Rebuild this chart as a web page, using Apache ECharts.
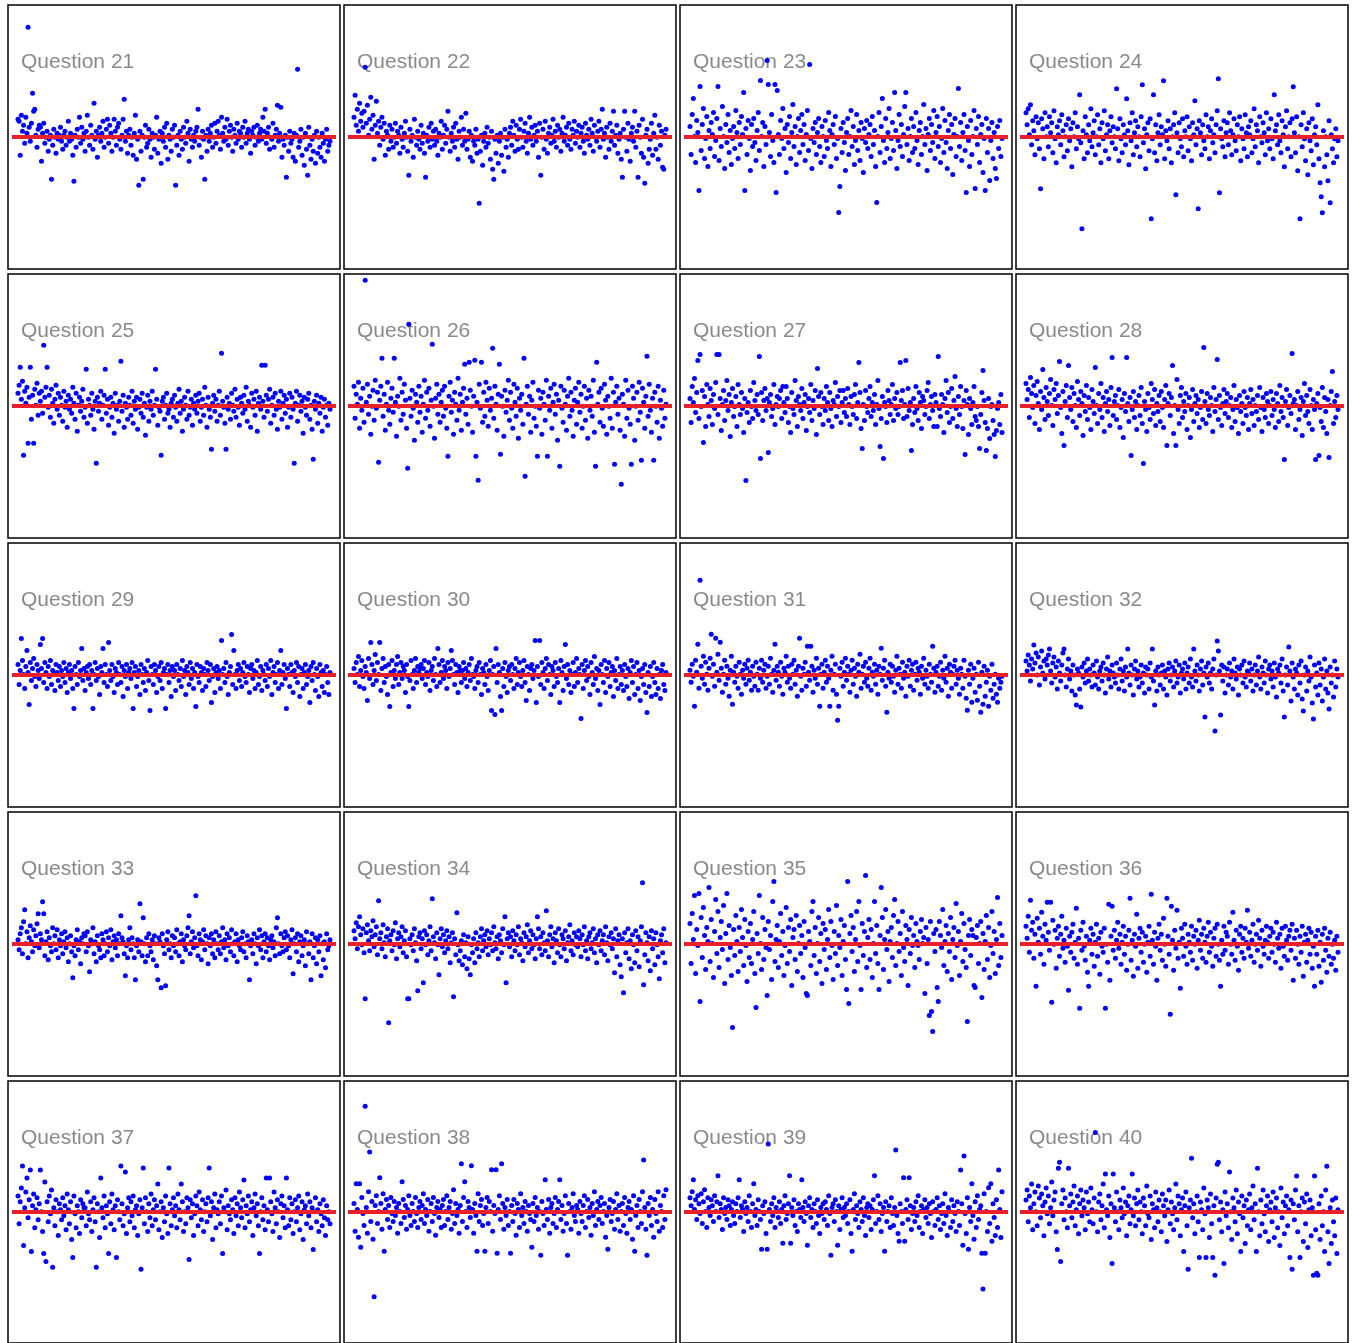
<!DOCTYPE html>
<html>
<head>
<meta charset="utf-8">
<title>Questions 21 - 40</title>
<script src="https://cdn.jsdelivr.net/npm/echarts@6/dist/echarts.min.js"></script>
<style>
  html, body { margin: 0; padding: 0; background: #fff; }
  #chart { width: 1356px; height: 1343px; }
</style>
</head>
<body>
<div id="chart"></div>
<script>
// one value per respondent, for each question
const q21 = [10,9,-8,12,4,7,-2,11,3,56,6,-1,8,23,14,15,2,-4,5,7,
  6,-11,3,8,-2,1,4,-6,0,2,-20,-3,5,1,-7,3,0,2,6,-1,
  -5,2,4,-3,1,9,-1,3,0,-8,-21,2,-4,5,1,11,-2,6,0,3,
  -6,4,12,1,-3,7,2,-5,18,0,4,-9,2,6,-1,3,9,-4,1,5,
  10,-2,7,3,-6,1,10,4,-3,6,8,0,-5,2,10,20,-1,4,-7,2,
  5,-3,1,-8,3,12,-10,0,-23,4,-6,2,-20,1,7,-4,-2,5,0,-9,
  3,1,-5,2,11,-7,0,4,-12,3,-1,6,-4,8,-10,2,0,-6,5,1,
  7,-23,-3,2,-8,4,0,-5,6,1,-2,9,3,-11,5,0,-4,2,-1,4,
  6,15,-3,1,-9,4,0,-20,2,-6,5,-1,3,7,-4,1,8,-2,4,9,
  2,-5,11,3,-1,6,0,10,-3,4,7,1,-6,5,2,-2,8,0,4,3,
  -4,6,1,9,-2,3,5,0,-7,4,2,6,-3,1,7,-1,3,5,0,11,
  4,15,-2,3,6,-5,1,0,8,-4,2,5,17,-1,3,16,-9,0,-3,2,
  -19,1,-6,4,-2,0,-9,3,-11,2,35,-4,-1,5,-8,1,-13,3,-5,-18,
  6,-3,-10,0,-6,2,-12,4,-7,1,-4,-9,3,-2,-11,0,5,-6,-3,-1];
const q22 = [12,23,8,16,5,19,10,14,7,15,37,9,18,3,11,22,6,13,-9,8,
  20,4,10,-2,7,12,1,9,-7,5,3,-4,8,0,6,-3,2,9,-1,5,
  3,-6,7,1,-3,4,10,2,-5,-17,6,0,3,-8,11,2,-2,5,1,-4,
  8,-1,4,-6,-18,3,0,7,-3,9,1,5,-2,6,0,-7,4,2,10,-4,
  3,8,-1,6,15,2,-5,4,0,7,-3,9,1,-9,5,2,12,-2,6,0,
  14,-4,1,5,-8,3,-10,0,-2,6,-6,1,-31,-5,3,-12,0,4,-3,7,
  -1,2,-9,5,-14,-19,1,-6,3,-11,0,4,-7,2,-15,6,-3,1,-8,4,
  7,-2,10,3,-5,8,1,-4,6,11,2,-3,5,9,0,-6,4,12,1,7,
  -2,3,8,0,5,-8,9,-17,2,6,-4,10,1,-6,4,7,-1,3,11,0,
  5,-3,8,2,6,-5,4,12,0,3,7,-2,9,1,-4,6,3,10,-1,5,
  2,8,-3,4,7,0,-6,9,3,1,6,-2,11,4,-5,8,2,0,5,10,
  -3,6,16,1,4,-8,7,2,-4,9,0,5,15,-2,3,8,-6,1,4,-9,
  -18,6,15,2,-5,9,1,-10,4,7,0,15,-3,5,-18,8,2,-6,11,-8,
  -21,3,6,-11,-4,1,9,-7,4,13,-4,2,-9,8,-2,5,-13,-14,3,6];
const q23 = [8,-6,14,22,3,-10,11,5,-24,28,-4,9,17,-8,2,13,-12,6,-3,10,
  4,15,-7,1,12,28,-9,7,-2,18,3,-13,9,0,14,-5,6,-11,2,8,
  -3,16,5,-8,10,-1,13,4,25,-24,7,-6,11,2,-14,9,-2,12,0,-9,
  6,15,-4,31,3,10,-12,8,-1,41,29,5,-7,14,1,-10,29,-25,26,4,
  -6,11,2,17,-3,7,-15,9,0,13,-8,5,19,-2,8,-11,3,12,-5,6,
  14,-1,9,-9,4,16,-4,39,2,-13,7,0,10,-6,5,12,-2,-10,8,3,
  -7,11,1,-3,15,6,-12,4,9,-1,13,-8,2,-35,-22,7,-5,10,0,-14,
  5,12,-6,3,16,-2,8,-11,1,14,-4,6,-9,10,2,-15,7,0,11,-3,
  4,9,-7,13,-1,6,-12,-30,3,15,-5,8,22,1,-10,12,-3,5,17,-8,
  2,10,-4,25,6,-13,1,14,-2,9,-7,4,18,25,-1,7,-9,3,12,-5,
  8,-3,15,1,-11,6,10,-6,3,19,-1,7,-14,4,12,-4,9,0,16,-8,
  5,13,-2,8,-10,2,17,-5,11,0,-13,6,14,-3,9,-16,4,12,-7,3,
  27,-2,10,-9,5,14,-4,-25,8,1,-12,11,-6,3,16,-23,7,-1,13,-10,
  4,9,-15,2,-24,12,-5,7,-19,1,10,-8,5,-13,-18,8,-3,11,-7,2];
const q24 = [14,8,16,3,18,-2,10,5,-7,12,1,9,-4,-24,11,6,-9,14,2,7,
  -3,12,4,9,-6,15,1,-11,7,3,10,-2,13,5,-8,2,8,-5,11,0,
  6,-13,9,2,14,-4,7,1,23,-1,-44,5,-9,12,3,-6,8,0,16,-3,
  4,10,-7,2,13,-2,6,-11,9,1,15,-5,3,8,-9,5,12,-1,7,2,
  -4,26,6,-10,11,1,-6,8,3,-2,21,5,-12,9,0,14,-7,4,10,-3,
  7,2,-8,12,28,-1,6,-14,3,9,-5,11,-39,1,23,-6,8,-10,4,13,
  -2,7,3,30,-9,5,0,10,-4,6,-11,2,8,14,-27,4,-6,9,1,-3,
  11,-8,5,2,12,-5,7,1,-10,9,3,20,-2,6,-34,10,4,-7,8,0,
  -4,13,2,7,-9,5,11,-1,3,-6,8,15,31,-26,6,1,-3,10,-8,4,
  9,-2,14,5,-7,3,11,0,-5,8,2,12,-10,6,1,-4,13,4,-8,7,
  3,10,-6,1,16,-3,8,5,-11,12,2,-1,9,4,-7,14,0,6,-4,11,
  1,-9,23,5,8,-2,13,0,-6,10,3,-13,7,15,-4,2,9,-8,11,27,
  4,-6,12,-15,2,-39,8,-3,14,1,-10,6,-17,9,0,-5,11,-12,3,7,
  -2,18,-9,-21,-28,-36,5,-13,2,-7,-20,10,-31,3,-4,-11,1,6,-8,0];
const q25 = [8,12,21,5,14,-23,9,3,11,-17,6,21,-5,7,-17,10,2,13,-3,8,
  4,9,-2,32,6,11,21,1,7,-4,10,3,-7,5,12,0,8,-3,6,2,
  -6,9,1,4,-9,7,0,5,-2,11,3,-5,8,-11,2,6,-1,4,10,-4,
  1,20,-7,5,2,-3,8,0,-10,4,-27,6,-1,3,9,-5,2,7,20,-2,
  5,-8,1,6,-4,3,-12,8,0,2,-6,4,24,-1,7,-9,3,1,-5,6,
  2,-3,9,-7,4,0,6,-10,1,5,-2,8,-4,3,-13,1,7,-6,4,0,
  9,-3,2,20,5,-8,1,-1,-23,4,6,-5,2,8,-2,0,-9,3,5,-4,
  7,1,-6,3,10,-2,4,-11,0,6,2,-5,9,-3,1,5,-8,3,0,7,
  -2,4,8,-6,1,5,-3,11,2,-9,6,0,-4,-20,3,7,-1,5,-6,2,
  9,-3,28,4,1,-7,-20,6,0,3,-5,8,2,-1,10,-4,5,1,-8,6,
  3,-2,7,0,11,-6,4,2,-9,8,1,5,-3,9,-11,3,6,0,22,4,
  -4,22,7,-1,5,10,-7,2,6,-3,8,0,-10,4,1,9,-5,3,7,-2,
  5,-9,1,8,-4,6,0,-27,3,9,-6,2,7,-1,4,-12,6,1,-3,5,
  8,-5,2,-10,-25,4,0,7,-7,3,-2,6,-11,1,5,-4,2,-8,3,0];
const q26 = [12,-4,8,3,14,-9,6,0,11,-6,65,4,13,-2,7,-12,2,10,-5,15,
  1,9,-26,5,12,26,-3,8,-10,3,14,0,-7,6,11,-1,26,4,-13,7,
  2,16,-5,9,-2,13,5,-9,-29,43,6,-3,10,1,-15,8,4,-6,12,-1,
  7,-11,3,15,-4,9,0,11,-8,5,33,2,-14,6,13,-2,8,-6,4,10,
  -3,12,1,-9,-23,7,14,-1,5,-12,9,3,-5,16,0,8,-10,4,11,23,
  -2,6,-7,24,10,2,-11,7,25,-23,4,-35,13,1,24,-6,9,-3,14,5,
  -8,11,0,6,31,-4,12,3,-10,8,23,-22,7,2,-13,10,-1,5,15,-5,
  9,1,-9,13,4,-3,11,-14,6,0,8,-7,26,-33,3,12,-2,7,-11,5,
  14,-4,2,-8,-23,10,1,6,-12,9,3,-5,15,-23,7,0,11,-9,4,13,
  -2,8,-15,5,-28,12,1,-6,10,3,-10,7,16,-3,9,0,-13,5,11,-7,
  4,14,-1,8,-9,2,12,-5,6,-14,10,0,7,-3,15,-11,-28,24,3,9,
  -6,11,1,-8,13,5,-12,7,2,-4,16,-9,9,-27,4,12,-2,6,-10,-37,
  8,3,-13,15,-4,10,1,-7,-27,12,6,-15,2,9,-5,14,-1,-25,11,4,
  -9,7,27,-3,13,0,-11,6,-25,9,2,-6,12,-14,5,1,-8,10,-4,3];
const q27 = [5,-7,11,3,15,-2,8,24,-5,27,1,9,-17,6,-9,12,2,-4,10,4,
  -8,7,0,13,27,-3,27,5,-11,2,9,-6,4,14,-1,7,-14,3,10,-4,
  1,6,-9,12,2,-3,8,0,-12,5,-36,-2,3,-7,9,1,-5,13,4,-1,
  7,-3,26,-25,8,-6,4,10,-1,5,-22,3,7,-4,0,12,-8,2,6,1,
  5,9,-5,11,3,-2,11,5,-7,1,-12,8,0,-3,14,4,-9,6,2,-1,
  10,-5,3,7,-11,1,5,-2,12,-6,4,0,9,-13,20,6,-3,8,1,-8,
  5,-1,11,3,-6,8,0,-9,4,2,13,-4,6,1,9,-7,3,9,-2,5,
  -4,10,2,-8,6,1,-3,7,12,-5,3,23,8,-10,-20,2,-6,9,1,-2,
  5,11,-4,3,-1,7,-8,2,14,0,-19,-5,6,-25,3,1,-7,9,4,-3,
  2,12,-6,5,0,8,-3,1,23,4,9,-5,2,24,-4,10,-1,3,-21,-8,
  5,-2,11,0,-6,8,3,-10,6,4,-3,1,9,13,-5,2,6,-1,-9,7,
  3,-9,26,0,-4,7,2,-12,5,14,-2,8,-7,1,10,-5,4,16,0,-9,
  6,-3,11,1,-10,4,-23,9,2,-13,5,0,-8,3,11,-4,-6,1,-9,-20,
  -3,8,19,4,-7,-21,-10,5,-15,1,2,-6,-13,-24,-11,0,3,-8,7,-12];
const q28 = [14,6,11,-3,17,9,2,13,-6,8,15,4,-9,10,1,21,7,-4,12,5,
  -2,9,16,3,-7,11,6,14,-1,8,25,2,-11,10,-17,5,13,-3,23,7,
  1,12,-5,9,3,-8,15,6,-2,10,4,-12,8,0,13,-4,7,2,-9,11,
  5,-1,22,3,-6,9,1,14,-3,7,-10,4,10,0,6,-7,12,27,-2,5,
  8,-4,3,11,-8,2,6,-13,9,0,27,4,-5,7,-22,1,10,-3,5,-9,
  3,8,-2,12,-6,-26,5,1,-10,9,2,-4,14,6,-1,11,-7,4,0,8,
  -5,10,2,-8,6,13,-17,4,9,-2,7,23,-11,3,-17,16,1,-6,8,12,
  -3,5,0,9,-9,3,7,-13,1,11,-5,4,8,-1,6,-8,2,10,-4,32,
  5,-6,9,1,-2,7,3,-10,12,0,6,26,-4,8,2,-7,4,11,-1,5,
  9,-3,3,7,-8,1,13,-5,6,2,-11,8,0,4,-6,10,2,-2,7,-9,
  4,11,-1,6,-7,3,0,8,-4,12,2,-10,7,1,-3,9,5,-6,3,10,
  -2,6,1,-8,9,4,-5,13,0,7,-3,-24,5,11,-7,2,8,-1,29,4,
  6,-9,3,10,-4,1,7,-12,5,14,-2,8,0,-6,11,3,-9,6,1,-24,
  4,9,-22,2,-5,12,-8,7,0,-11,6,-23,3,10,20,-6,5,-3,8,1];
const q29 = [6,-4,3,19,8,1,-6,5,13,2,-14,7,-2,4,9,0,-5,6,3,-1,
  16,4,19,-3,7,2,-6,5,0,8,-4,3,1,-7,6,2,-2,5,-5,3,
  0,7,-3,4,-8,2,6,-1,3,-6,-16,5,1,-4,7,0,3,14,-2,4,
  -7,2,5,-1,6,-4,3,-16,1,7,-2,4,0,-9,5,2,14,-3,6,1,
  -5,17,3,-2,6,0,-8,4,2,-4,7,1,-3,5,-10,3,0,6,-6,2,
  4,-1,7,-16,2,5,-5,0,3,-9,6,1,-3,4,-7,2,8,-2,-17,5,
  1,-4,6,3,-8,0,5,-2,7,-6,2,4,-16,1,6,-3,3,-10,5,0,
  3,-7,6,1,-2,4,-5,8,0,3,-9,5,2,-4,7,-1,4,-6,2,-15,
  6,0,-3,5,2,-7,4,1,-5,7,3,-2,6,-13,0,4,-8,2,5,-1,
  3,-6,18,1,4,-3,7,0,-9,2,5,21,-4,13,1,-6,3,6,-2,4,
  -5,2,7,0,-3,5,1,-8,4,6,-1,3,-6,2,8,-4,0,5,-7,3,
  1,-2,6,-5,4,0,8,-9,2,5,-3,1,7,-6,3,13,-4,2,6,-1,
  -16,4,1,-5,6,2,-8,3,0,7,-3,5,-10,1,4,-6,2,6,-4,0,
  3,-13,5,-2,7,1,-7,4,0,-10,6,2,-5,3,-8,1,5,-3,-9,2];
const q30 = [4,-3,7,1,10,-5,3,8,0,-6,5,2,-12,9,-1,17,6,-4,3,11,
  -2,7,1,17,-7,4,9,-3,5,0,-9,6,-15,2,8,-5,3,-1,6,10,
  -4,2,7,-1,5,3,-8,6,0,-15,-2,8,1,-6,3,9,-3,5,2,4,
  6,-1,4,8,-4,2,0,7,-7,3,5,-2,9,1,-5,14,6,-3,2,8,
  -1,5,3,-6,7,0,4,13,8,1,-4,6,2,-8,5,3,-3,3,7,-1,
  4,-5,2,6,-2,9,1,0,-6,3,5,-3,7,1,-9,4,2,-4,6,0,
  -7,3,8,-17,1,5,-19,14,-3,6,2,-10,-17,4,-5,7,0,-8,3,5,
  -2,6,1,-6,4,9,-4,2,7,0,-5,3,8,-3,-12,5,1,-7,4,6,
  -1,3,18,-13,5,0,18,-4,7,2,-6,4,9,-2,6,1,-9,5,3,-5,
  7,0,-3,4,-13,8,2,-7,5,16,-1,6,-4,3,-8,1,7,-5,2,9,
  -3,4,1,-21,6,-6,3,8,-2,5,0,-9,7,2,-4,10,-1,4,-7,3,
  -14,6,1,-3,8,-8,4,0,7,-5,2,5,-10,3,-2,9,-6,1,5,-4,
  3,-7,6,0,-5,4,-11,2,8,-3,5,-9,1,7,-6,3,-12,0,4,-4,
  6,-8,-18,2,-5,5,-10,0,7,-3,-9,4,-6,1,-11,3,6,-4,-7,2];
const q31 = [4,-2,7,1,-14,9,3,17,-5,49,6,0,11,-3,8,2,-6,5,10,22,
  1,7,-4,20,3,12,-1,18,5,-7,2,9,-3,6,0,-9,4,11,-13,3,
  -2,6,1,-5,8,2,-8,4,0,7,-3,5,9,-1,3,-6,6,1,-4,8,
  2,-6,5,0,9,-2,4,7,-5,1,6,-3,10,2,-7,4,17,-1,6,3,
  -4,8,1,-8,5,3,11,-2,6,0,-5,7,2,9,-3,4,-9,6,20,1,
  -6,5,2,8,-4,16,3,-1,16,6,-7,4,0,10,-3,5,-14,2,7,-5,
  3,9,-2,6,0,-14,4,11,-6,2,7,-8,-21,-14,5,1,8,-4,3,10,
  -1,6,2,-7,4,9,-3,5,1,-9,7,3,12,-5,2,6,-2,8,0,-4,
  5,10,-6,3,1,7,-3,4,-8,6,2,15,-1,5,9,-4,-17,3,0,7,
  -2,6,1,-7,4,11,-3,5,2,-5,8,0,3,-9,6,1,9,-4,4,7,
  -6,2,8,-1,5,3,-8,6,0,10,-3,4,1,-5,7,2,-2,16,5,-7,
  3,6,-4,1,8,-6,4,0,11,-2,5,-9,7,3,-5,2,6,9,-3,4,
  0,-8,5,2,-5,9,1,-10,-16,4,-3,7,-12,0,5,-7,2,-11,8,-4,
  -17,3,-13,6,-9,-2,4,-14,1,-6,7,-10,-3,2,-8,-12,0,-5,-2,1];
const q32 = [8,3,11,6,-2,9,4,16,7,12,1,10,-4,5,13,2,8,-1,9,6,
  11,14,3,-3,7,10,0,5,-6,8,2,-2,6,12,14,1,-5,4,9,-1,
  3,-7,6,1,-9,-14,4,2,-6,-15,5,0,7,-3,3,9,-2,4,1,-5,
  6,2,-4,8,0,-6,3,5,-2,7,1,-8,4,10,-1,3,-5,6,2,0,
  -3,7,1,-6,4,9,-2,3,-7,5,0,14,2,-4,6,1,-9,4,8,-1,
  3,-5,0,6,-3,2,-8,5,1,4,-6,7,0,14,-2,-14,3,-7,5,1,
  -4,2,6,-6,3,0,-9,4,7,-2,1,5,-5,3,8,-3,0,6,-8,2,
  4,-1,7,-6,2,5,-3,9,0,-5,14,3,-2,6,1,-7,4,8,-4,2,
  -20,5,0,7,-3,2,-6,4,9,-27,1,18,13,3,-19,6,-2,5,-8,1,
  4,-4,7,0,3,-6,9,2,-1,5,-9,4,1,6,-3,8,0,-5,3,2,
  7,-2,4,-7,1,6,-4,3,10,0,-6,5,2,-3,8,1,-8,4,6,-1,
  3,-5,7,0,-10,4,2,6,-3,9,-7,-20,1,5,-4,15,3,-12,7,0,
  -6,4,2,-9,6,-3,8,-11,-17,1,5,-7,3,-2,10,0,-13,-21,6,-5,
  2,-9,7,-4,4,-12,0,9,-6,3,-8,-16,5,-3,1,-10,8,-5,4,0];
const q33 = [3,-2,6,9,-4,12,18,1,7,-6,4,10,2,-3,8,0,5,11,16,-1,
  6,3,22,16,-5,2,7,-7,4,0,-3,9,1,5,-2,8,-6,3,0,6,
  -4,2,7,-1,4,-8,1,5,-3,-16,0,-5,3,8,-2,2,-9,4,1,6,
  5,-3,7,0,-13,3,1,9,-4,2,-8,5,0,-2,-6,6,3,-5,1,7,
  -3,4,0,8,-7,2,5,-1,3,-5,6,1,15,4,2,-4,-15,0,-6,3,
  9,-2,4,1,-6,-17,0,3,-3,21,2,-5,14,1,-8,4,-5,6,0,-3,
  3,-7,5,1,-10,-17,4,2,-21,6,0,-4,-20,3,7,-2,1,-6,5,0,
  4,-3,8,1,-5,2,6,-8,3,0,-2,5,9,15,-4,2,7,-1,4,25,
  0,-5,6,3,-7,2,8,-2,5,1,-9,4,0,6,-4,3,-6,7,1,-2,
  5,-4,2,9,-1,3,-7,6,0,4,-3,8,1,-5,2,6,-8,3,0,-2,
  4,7,-3,1,-6,5,2,-17,0,3,-4,6,1,-9,4,0,8,-2,5,-6,
  2,6,-3,4,0,-7,3,5,-1,2,-5,9,14,1,-4,6,0,-3,4,7,
  -2,5,0,-6,3,8,-14,1,4,-3,6,-8,2,5,-5,0,3,-10,7,1,
  -4,2,-17,6,-6,0,4,-9,3,-3,5,-15,1,-7,2,-11,6,-2,0,3];
const q34 = [7,3,11,-2,9,14,5,0,8,-4,-27,6,10,2,-3,7,4,12,-1,5,
  9,-5,22,3,6,-2,10,1,-6,4,8,-39,2,5,-3,7,0,11,-7,3,
  6,-1,4,9,-4,2,7,-6,-27,-27,3,0,5,-3,8,1,-8,-23,4,6,
  -2,3,-19,7,0,5,-5,2,9,-3,23,4,1,-7,6,0,-15,3,8,-1,
  5,-4,2,7,-2,4,-9,1,6,-26,3,-5,16,0,-8,-3,2,-10,5,-6,
  1,-12,4,-7,-15,0,-4,3,-9,6,-2,1,-6,4,8,-3,2,5,-1,7,
  -5,3,0,6,-3,9,1,-2,4,-7,5,2,-4,8,0,14,-19,3,6,-1,
  4,-6,7,2,-3,5,0,9,-5,3,1,-8,6,-1,4,10,-4,2,7,-2,
  5,0,-7,3,14,8,-2,4,-5,6,1,-3,17,2,-6,5,9,-1,3,-9,
  6,2,-4,8,0,-6,5,3,-2,7,-8,1,4,10,-3,2,-5,6,0,4,
  -1,7,3,-6,5,0,9,-3,2,-7,4,6,-2,1,8,-4,3,-9,5,0,
  7,-3,2,5,-5,9,1,-8,4,0,6,-2,3,-14,8,-6,2,5,-10,-16,
  3,-24,6,-4,1,8,-7,2,-12,5,0,-9,7,-3,4,-11,2,9,31,-20,
  -5,6,1,-8,4,-13,7,-2,3,-10,6,0,-6,-17,2,5,-4,8,-9,1];
const q35 = [12,-8,17,4,26,-13,9,1,27,-27,15,-5,20,6,-11,10,3,30,-7,14,
  2,-15,8,24,-3,18,-10,5,13,-1,21,-18,7,27,-6,11,0,-14,-40,9,
  -4,16,3,-12,10,-2,19,5,-9,14,1,-17,8,-5,12,-8,4,18,-13,-30,
  7,-3,26,2,-11,15,-6,9,0,-24,13,-1,6,-16,23,33,-7,4,11,-10,
  3,17,-4,8,-14,1,20,-8,10,-2,14,-19,5,9,-6,16,-12,2,11,-3,
  6,-15,13,0,-23,-24,8,3,-9,18,23,-4,10,-13,2,15,-7,7,-18,12,
  -1,9,-11,4,19,-5,13,1,-16,8,-3,21,-9,6,0,14,-14,3,11,-6,
  -21,33,-28,7,16,-2,10,-12,4,18,-7,23,1,-21,12,-4,8,36,-10,5,
  14,-6,9,-15,2,23,-3,11,-8,-21,6,30,15,-11,4,19,-1,8,-17,3,
  10,-5,16,24,-9,2,13,-2,7,-14,18,0,-7,11,4,-19,9,-3,15,1,
  6,-10,12,3,1,-6,8,14,2,5,-23,10,-8,4,-34,13,-32,-42,7,-2,
  9,-20,-27,13,6,0,19,-9,3,11,-12,7,-2,15,-16,4,10,-5,22,1,
  8,-14,3,17,-7,12,-1,-10,-37,6,14,-4,9,6,-19,-20,5,11,-8,2,
  13,-25,7,-11,3,16,-6,10,-15,1,18,-3,8,-13,4,25,-9,12,-5,6];
const q36 = [10,4,15,-3,23,8,12,-6,6,-20,14,2,9,-4,17,5,-9,11,3,22,
  7,-2,22,-28,13,1,8,-11,4,10,-5,6,15,-1,3,-8,9,0,-22,5,
  -3,7,11,-6,2,19,-9,4,-31,8,-2,12,0,-7,5,-13,-20,3,9,-4,
  6,-10,2,11,-5,4,-14,7,0,-3,9,-31,1,-8,21,-17,5,20,-2,8,
  -6,3,12,-1,6,-9,2,10,-4,5,-12,1,8,24,-7,3,-15,6,0,16,
  -11,4,9,-3,7,-8,1,5,-13,2,10,-5,26,3,-9,7,0,-17,4,11,
  -2,6,-7,14,1,-10,24,5,-4,-34,20,3,-12,8,-1,18,-6,2,-21,9,
  4,-5,11,0,-9,6,2,-3,10,-7,5,1,8,-11,3,13,-2,6,-6,9,
  2,-8,5,12,-3,7,0,-10,4,9,-5,11,1,-7,-20,3,-4,10,-2,7,
  5,-9,12,1,-4,17,3,-7,8,0,-12,6,10,-3,4,-6,9,2,18,-1,
  7,-5,3,11,-8,1,6,-2,13,4,-10,8,0,-4,3,10,2,-6,5,9,
  -3,7,1,-8,12,4,-1,6,-11,9,0,-5,10,3,-7,5,8,-2,11,-17,
  4,-6,8,1,-9,5,-3,10,-15,2,6,-8,3,9,-4,7,-11,0,-20,5,
  -4,8,-10,2,-18,6,-7,9,-2,-13,4,-5,7,-9,1,-6,3,-12,5,-3];
const q37 = [9,-5,6,13,24,-16,3,11,18,-2,7,22,-19,4,10,-7,2,8,-3,5,
  22,1,-9,-20,16,-24,6,-4,9,0,12,-27,3,-6,7,1,-11,5,2,-3,
  8,-1,4,-8,10,2,-5,6,-13,-22,9,0,-7,4,1,-10,7,-2,5,3,
  3,-6,11,0,-3,6,-9,2,8,-4,-27,5,1,-12,18,3,-2,9,-7,4,
  0,-20,6,-5,10,2,-8,4,-22,7,1,-3,24,5,-6,0,21,-10,3,8,
  -4,6,-1,9,-7,2,4,-11,0,7,-28,3,23,-5,8,1,-9,5,-2,10,
  -6,2,7,-3,4,15,-8,1,6,-12,3,-4,9,0,-10,23,5,-6,2,8,
  -1,4,-7,10,2,-3,15,6,-9,1,-5,8,3,-23,7,-2,5,-11,0,9,
  4,-6,11,2,-3,7,-9,1,5,-4,8,23,-1,6,-13,3,10,-7,2,0,
  6,-5,9,-20,3,1,12,-8,4,0,-3,7,2,-10,8,-1,5,-6,11,3,
  -2,7,17,-7,4,0,9,-4,2,6,-11,3,10,-1,5,-6,-20,1,8,-3,
  4,-8,18,2,-4,18,6,0,-9,11,3,-5,7,1,-12,5,9,-2,4,-7,
  18,2,-6,8,-3,5,-10,1,7,-4,3,9,-8,0,6,-13,2,4,-5,10,
  -1,6,-7,3,-18,1,8,-4,2,-9,5,0,-6,7,-2,-11,4,-3,1,-5];
const q38 = [6,-8,16,3,-11,16,-16,9,1,-5,55,4,-9,12,32,-3,7,-12,-41,5,
  10,-4,2,19,6,-7,11,-18,3,8,-2,5,-6,9,1,-3,7,0,4,-9,
  6,2,-4,17,8,-1,5,-7,3,10,0,-5,6,2,-3,9,1,-6,4,7,
  -2,5,11,-4,3,0,8,-8,2,6,-3,9,1,-10,4,7,-1,3,-6,5,
  8,-5,2,10,-2,4,7,-7,1,13,-4,6,0,3,-9,5,26,-3,9,17,
  2,-6,7,4,-1,25,3,-9,6,0,-18,11,-3,5,8,-5,1,-18,4,9,
  -4,7,2,23,-8,5,1,23,-19,3,10,-2,26,6,-7,4,0,8,-5,2,
  -19,5,-3,8,1,-10,6,3,-6,11,0,4,-4,7,2,-8,5,1,-2,-16,
  6,-3,9,0,4,-7,2,-20,7,1,-5,18,3,-2,8,-9,4,6,-4,1,
  9,-6,3,7,18,-2,5,-8,1,10,-4,-20,6,2,-7,4,11,0,-3,5,
  3,-9,7,1,-3,5,10,-6,2,8,-1,4,-10,6,0,12,-5,3,7,-2,
  5,9,-4,2,6,-11,0,-17,4,8,-3,1,7,-7,3,11,-2,5,-8,2,
  6,-5,9,1,-9,4,7,-2,3,-12,10,-18,0,5,-6,8,2,-4,12,28,
  4,-7,-20,6,0,9,-5,3,-11,8,1,-3,12,-8,5,2,-6,10,-2,13];
const q39 = [9,5,12,18,3,8,-2,10,6,1,11,-4,7,13,2,-6,9,4,0,8,
  5,-3,10,2,7,20,-1,6,3,-7,9,1,4,-2,8,5,-5,3,7,0,
  -4,6,2,9,18,-1,5,3,-8,7,1,4,-3,10,2,-6,6,16,0,3,
  -5,8,2,-2,-17,5,1,7,-9,-17,36,3,-3,6,0,9,-6,4,2,-1,
  7,-4,3,-14,5,10,-2,1,6,20,-14,4,0,8,-5,2,-8,6,3,-1,
  18,4,-3,7,1,-15,5,9,-1,3,-6,6,2,-4,8,0,-9,4,1,6,
  -2,7,3,-5,10,1,-20,4,6,-3,8,2,-15,5,-7,3,9,-1,4,0,
  6,-4,2,8,-9,-18,3,11,-2,5,1,-6,7,3,-3,9,0,-10,4,6,
  -1,5,-7,3,8,20,-4,2,10,-2,6,-8,1,4,-18,7,-3,2,5,-6,
  9,1,-5,4,33,0,-9,-13,6,2,-4,19,-13,3,8,-2,19,5,-7,1,
  4,-3,7,0,10,-6,2,5,-9,3,8,-1,4,-4,6,1,-11,7,2,-5,
  3,9,-2,5,-7,1,6,-4,11,0,-10,4,2,-6,8,-3,5,1,-8,7,
  2,-5,23,6,-15,30,1,-9,9,-17,4,-3,16,0,-12,7,-6,10,-2,3,
  5,-19,-37,11,-19,2,-8,14,-4,16,-13,6,-1,-10,8,-6,23,3,-11,12];
const q40 = [7,12,-4,9,3,15,-8,5,11,1,-6,14,8,-2,10,4,-11,6,13,0,
  9,-5,3,16,-1,7,11,-9,-18,23,26,-24,5,12,-3,8,1,-7,23,4,
  10,-2,6,14,-6,2,9,-10,5,12,-1,7,3,-8,11,0,6,-4,13,2,
  -5,8,41,1,-9,6,10,-3,4,15,-7,20,2,-1,9,-12,5,-25,20,3,
  -4,11,1,-8,7,3,-2,13,0,6,-11,4,9,-5,2,20,-1,8,-6,5,
  12,-3,6,1,-10,8,4,-6,14,0,-2,9,-13,5,2,-7,11,3,-4,7,
  1,-9,10,4,-1,7,-14,2,12,-5,6,0,-8,3,15,-3,9,5,-11,2,
  8,-19,4,11,-6,-28,3,7,28,-2,5,-10,1,9,-4,-22,6,2,-8,13,
  0,-22,7,3,-12,10,-5,-22,4,-31,8,25,26,-3,6,-9,2,-25,11,-1,
  5,-7,21,1,-13,8,3,-4,12,-10,6,0,-19,9,-2,4,-15,7,-6,2,
  10,-8,3,14,-3,5,-19,23,1,-11,7,-5,12,0,-9,4,9,-14,2,6,
  -4,11,-12,3,8,-7,1,-16,13,-2,6,-10,4,9,-6,2,-22,7,-28,5,
  -3,12,19,-9,4,-22,1,8,-14,6,-5,10,-17,2,7,-11,3,-31,19,-8,
  -30,-31,5,-13,9,-6,1,-19,12,24,-9,-25,3,-15,7,-4,-11,8,-20,2];

const questionNumbers = [21, 22, 23, 24, 25, 26, 27, 28, 29, 30,
  31, 32, 33, 34, 35, 36, 37, 38, 39, 40];
const questionValues = [q21, q22, q23, q24, q25, q26, q27, q28, q29, q30,
  q31, q32, q33, q34, q35, q36, q37, q38, q39, q40];
// the y axis spans this much either side of the question mean
const halfSpan = 66;

const chart = echarts.init(document.getElementById('chart'));

const grid = [];
const xAxis = [];
const yAxis = [];
const series = [];
const graphic = [];

questionValues.forEach((values, i) => {
  const col = i % 4;
  const row = Math.floor(i / 4);
  const left = 8 + col * 336;
  const top = 5 + row * 269;
  const n = values.length;
  const mean = values.reduce((a, b) => a + b, 0) / n;
  // keep ~10px of empty space at both sides of the points
  const pad = 10 / 312 * (n - 1);
  const xMin = 1 - pad;
  const xMax = n + pad;
  const inset = 4 / 332 * (xMax - xMin);

  grid.push({
    left: left, top: top, width: 332, height: 264,
    show: true, borderColor: '#000', borderWidth: 1.5, backgroundColor: 'transparent'
  });
  xAxis.push({ gridIndex: i, type: 'value', min: xMin, max: xMax, show: false });
  yAxis.push({ gridIndex: i, type: 'value', min: mean - halfSpan, max: mean + halfSpan, show: false });

  series.push({
    type: 'scatter',
    xAxisIndex: i,
    yAxisIndex: i,
    data: values.map((v, k) => [k + 1, v]),
    symbolSize: 5,
    itemStyle: { color: '#0000ff', opacity: 1 },
    silent: true,
    markLine: {
      silent: true,
      symbol: 'none',
      label: { show: false },
      lineStyle: { color: '#e8202a', width: 4, type: 'solid', opacity: 1 },
      data: [[{ coord: [xMin + inset, mean] }, { coord: [xMax - inset, mean] }]]
    }
  });

  graphic.push({
    type: 'text',
    x: left + 13,
    y: top + 57,
    z: 0,
    style: {
      text: 'Question ' + questionNumbers[i],
      fill: '#8a8a8a',
      font: '21px "Liberation Sans", Arial, sans-serif',
      verticalAlign: 'middle'
    }
  });
});

chart.setOption({
  animation: false,
  backgroundColor: '#fff',
  grid: grid,
  xAxis: xAxis,
  yAxis: yAxis,
  graphic: graphic,
  series: series
});
</script>
</body>
</html>
